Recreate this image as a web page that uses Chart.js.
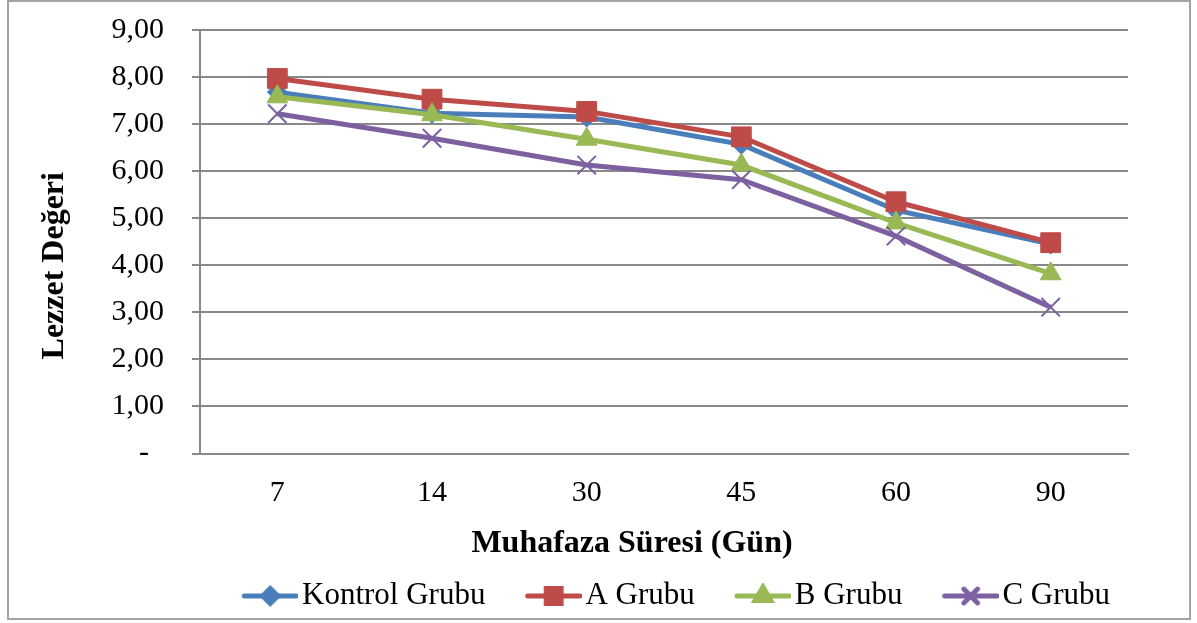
<!DOCTYPE html>
<html lang="tr">
<head>
<meta charset="utf-8">
<title>Lezzet Değeri</title>
<script src="https://cdn.jsdelivr.net/npm/chart.js@4.4.1/dist/chart.umd.min.js"></script>
<style>
  html, body { margin: 0; padding: 0; background: #ffffff; }
  #wrap { width: 1197px; height: 623px; }
</style>
</head>
<body>
<div id="wrap"><canvas id="chart" width="1197" height="623"></canvas></div>
<script>
// Storage days (x categories)
const days = ['7', '14', '30', '45', '60', '90'];

// Taste scores per group
const kontrolGrubu = [7.68, 7.23, 7.15, 6.57, 5.17, 4.45];
const aGrubu       = [7.97, 7.53, 7.27, 6.73, 5.35, 4.48];
const bGrubu       = [7.58, 7.20, 6.68, 6.13, 4.90, 3.82];
const cGrubu       = [7.22, 6.70, 6.13, 5.82, 4.62, 3.11];

const seriesNames = ['Kontrol Grubu', 'A Grubu', 'B Grubu', 'C Grubu'];

// Value axis
const yMin = 0, yMax = 9, yStep = 1;

const SERIF = '"Liberation Serif", "Times New Roman", Times, serif';
const GRID = '#898989';

const colors  = ['#4A7EBB', '#BE4B48', '#98B954', '#7D60A0'];
const styles  = ['rectRot', 'rect', 'triangle', 'crossRot'];
const radii   = [10, 14, 12, 13];

// Legend layout
const LEGEND_FONT = 31;
const LEGEND_PAD = 10;
const LEGEND_BOX_W = 74.5;
const LEGEND_LINE = 56;
const LEGEND_START = 242;

// Legend icon: short line with the series marker in its middle
function legendIcon(i) {
  const c = document.createElement('canvas');
  const w = Math.round(LEGEND_BOX_W + 23);
  c.width = w; c.height = 26;
  const ctx = c.getContext('2d');
  const x1 = w - LEGEND_LINE, x2 = w, cy = 13;
  ctx.strokeStyle = colors[i];
  ctx.lineWidth = 5;
  ctx.lineCap = 'round';
  ctx.beginPath(); ctx.moveTo(x1 + 2, cy); ctx.lineTo(x2 - 2, cy); ctx.stroke();
  ctx.fillStyle = colors[i];
  ctx.strokeStyle = colors[i];
  const opts = { pointStyle: styles[i], radius: radii[i] * 0.75, borderWidth: styles[i] === 'crossRot' ? 2 : 1, rotation: 0 };
  if (Chart.helpers && Chart.helpers.drawPoint) {
    Chart.helpers.drawPoint(ctx, opts, (x1 + x2) / 2, cy);
  }
  return c;
}

function dataset(i, values, order) {
  return {
    label: seriesNames[i],
    data: values,
    borderColor: colors[i],
    backgroundColor: colors[i],
    borderWidth: 5,
    pointStyle: styles[i],
    pointRadius: radii[i],
    pointBackgroundColor: colors[i],
    pointBorderColor: colors[i],
    pointBorderWidth: styles[i] === 'crossRot' ? 2 : 1,
    tension: 0,
    fill: false,
    order: order
  };
}

const frame = {
  id: 'frame',
  beforeDraw(chart) {
    const ctx = chart.ctx;
    ctx.save();
    ctx.fillStyle = '#ffffff';
    ctx.fillRect(0, 0, chart.width, chart.height);
    ctx.strokeStyle = '#a3a3a3';
    ctx.lineWidth = 2;
    ctx.strokeRect(8, 1, 1182, 618);
    ctx.restore();
  }
};

const legendNudge = {
  id: 'legendNudge',
  afterLayout(chart) {
    const lg = chart.legend;
    if (!lg) return;
    const current = lg.left + LEGEND_PAD + LEGEND_BOX_W - 44.5;
    const dx = LEGEND_START - current;
    lg.left += dx;
    lg.right += dx;
  }
};

const icons = seriesNames.map((_, i) => legendIcon(i));

new Chart(document.getElementById('chart'), {
  type: 'line',
  data: {
    labels: days,
    datasets: [
      dataset(0, kontrolGrubu, 4),
      dataset(1, aGrubu, 3),
      dataset(2, bGrubu, 2),
      dataset(3, cGrubu, 1)
    ]
  },
  options: {
    responsive: false,
    animation: false,
    events: [],
    layout: { padding: { left: 8, right: 69, top: 30, bottom: 1.5 } },
    plugins: {
      title: { display: false },
      tooltip: { enabled: false },
      legend: {
        display: true,
        position: 'bottom',
        align: 'start',
        labels: {
          color: '#000000',
          font: { family: SERIF, size: LEGEND_FONT },
          padding: LEGEND_PAD,
          usePointStyle: true,
          pointStyleWidth: LEGEND_BOX_W,
          generateLabels(chart) {
            return chart.data.datasets.map((ds, i) => ({
              text: ds.label,
              fillStyle: colors[i],
              strokeStyle: colors[i],
              lineWidth: 0,
              pointStyle: icons[i],
              hidden: false,
              datasetIndex: i,
              fontColor: '#000000'
            }));
          }
        }
      }
    },
    scales: {
      x: {
        type: 'category',
        offset: true,
        grid: { display: false, drawTicks: false },
        border: { display: true, color: GRID, width: 2 },
        ticks: {
          color: '#000000',
          font: { family: SERIF, size: 30 },
          padding: 22,
          maxRotation: 0,
          autoSkip: false
        },
        title: {
          display: true,
          text: 'Muhafaza Süresi (Gün)' + '\u00a0'.repeat(8),
          color: '#000000',
          font: { family: SERIF, size: 32, weight: 'bold' },
          padding: { top: 0, bottom: 8 }
        },
        afterFit(scale) { scale.height = 117; }
      },
      y: {
        min: yMin,
        max: yMax,
        grid: {
          color: GRID,
          lineWidth: 2,
          drawTicks: true,
          tickLength: 8,
          tickColor: GRID,
          tickWidth: 2
        },
        border: { display: true, color: GRID, width: 2 },
        ticks: {
          stepSize: yStep,
          color: '#000000',
          font: { family: SERIF, size: 30 },
          padding: 28,
          callback(value) {
            if (value === 0) return '-\u2007';
            return value.toFixed(2).replace('.', ',');
          }
        },
        title: {
          display: true,
          text: 'Lezzet Değeri' + '\u00a0'.repeat(6),
          color: '#000000',
          font: { family: SERIF, size: 32, weight: 'bold' },
          padding: { top: 28, bottom: 0 }
        },
        afterFit(scale) {
          scale.width = 192;
          // keep the label overhang small so the plot starts at the layout padding
          scale.paddingTop = 15;
          scale.paddingBottom = 15;
        }
      }
    }
  },
  plugins: [frame, legendNudge]
});
</script>
</body>
</html>
